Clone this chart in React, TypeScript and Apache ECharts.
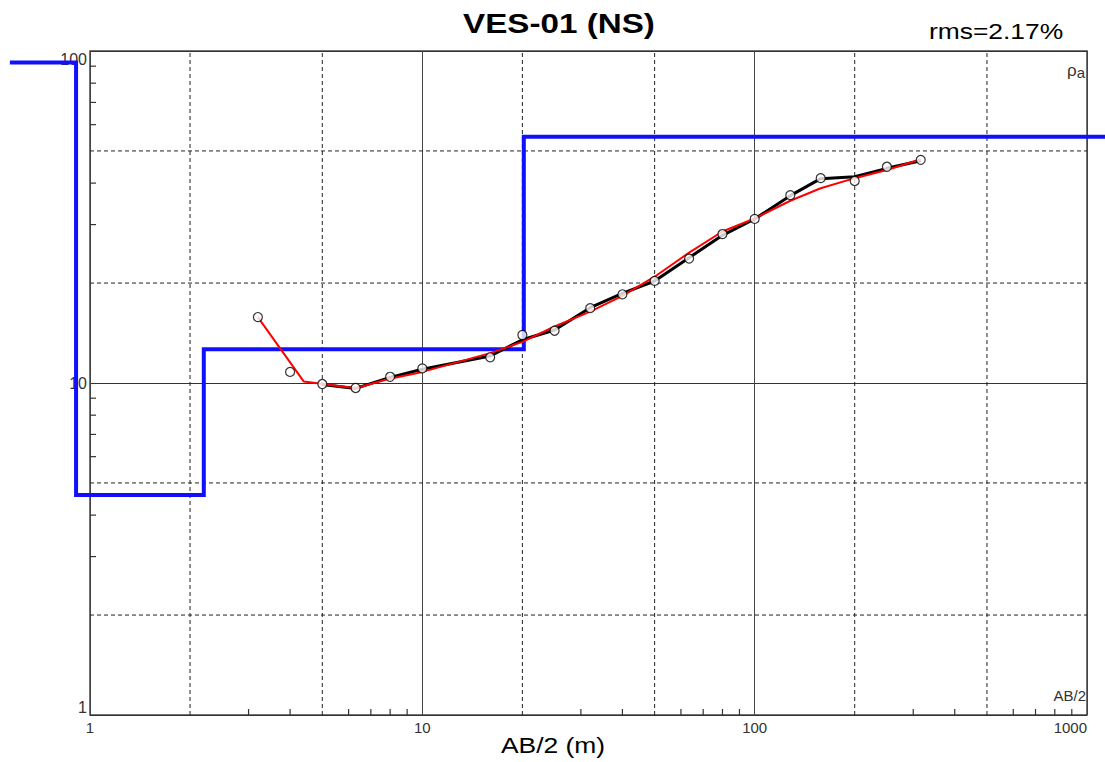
import React, { useEffect, useRef } from "react";
import * as echarts from "echarts";

const titleText = "VES-01 (NS)";
const rmsText = "rms=2.17%";
const xAxisName = "AB/2 (m)";
const cornerYLabel = "ρ";
const cornerYSub = "a";
const cornerXLabel = "AB/2";

// observed apparent resistivity (circles)
const obsAB2 = [3.2, 4, 5, 6.3, 8, 10, 16, 20, 25, 32, 40, 50, 63.5, 80, 100, 128, 158, 200, 250, 316];
const obsRho = [15.8, 10.8, 9.93, 9.66, 10.44, 11.07, 11.95, 13.95, 14.37, 16.8, 18.5, 20.3, 23.7, 28.1, 31.2, 36.8, 41.4, 40.6, 44.8, 47.0];

// field curve (black)
const fieldAB2 = [5, 6.3, 8, 10, 16, 20, 25, 32, 40, 50, 63.5, 80, 100, 128, 158, 200, 250, 316];
const fieldRho = [9.9, 9.63, 10.4, 11.0, 12.06, 13.5, 14.44, 16.86, 18.63, 20.29, 23.85, 27.85, 31.19, 36.67, 41.26, 41.82, 44.32, 46.73];

// calculated curve (red)
const calcAB2 = [3.2, 4.4, 6.3, 7.8, 10, 16, 20, 25, 32, 40, 50, 63.5, 80, 100, 128, 158, 200, 250, 316];
const calcRho = [15.8, 10.1, 9.64, 10.25, 10.8, 12.3, 13.3, 14.8, 16.4, 18.3, 20.9, 24.7, 28.6, 31.3, 35.4, 38.6, 41.4, 43.8, 47.2];

// layered model (blue)
const layerRho = [92.4, 4.6, 12.63, 55.2];
const layerDepth = [0.908, 2.2, 20.2];
const modelStart = 0.574;
const modelEnd = 1300;

// grid decorations
const xDashed = [2, 5, 20, 50, 200, 500];
const yDashed = [2, 5, 20, 50];
const xMinor = [3, 4, 6, 7, 8, 9, 30, 40, 60, 70, 80, 90, 300, 400, 600, 700, 800, 900];
const yMinor = [3, 4, 6, 7, 8, 9, 30, 40, 60, 70, 80, 90];

const FONT = "'Liberation Sans', Arial, Helvetica, sans-serif";

export default function App() {
  const ref = useRef<HTMLDivElement>(null);

  useEffect(() => {
    if (!ref.current) return;
    const chart = echarts.init(ref.current, undefined, { renderer: "svg" });

    const modelPts: number[][] = [[modelStart, layerRho[0]]];
    layerDepth.forEach((d, i) => {
      modelPts.push([d, layerRho[i]]);
      modelPts.push([d, layerRho[i + 1]]);
    });
    modelPts.push([modelEnd, layerRho[layerRho.length - 1]]);

    const decoData: number[][] = [];
    xDashed.forEach((v) => decoData.push([v, 1, 0]));
    yDashed.forEach((v) => decoData.push([1, v, 1]));
    xMinor.forEach((v) => decoData.push([v, 1, 2]));
    yMinor.forEach((v) => decoData.push([1, v, 3]));

    const option: any = {
      animation: false,
      backgroundColor: "#ffffff",
      grid: {
        left: 90,
        right: 18,
        top: 51,
        bottom: 47,
        show: true,
        borderColor: "#444",
        borderWidth: 1.5,
        backgroundColor: "transparent",
      },
      xAxis: {
        type: "log",
        logBase: 10,
        min: 1,
        max: 1000,
        axisLine: { show: false },
        axisTick: { show: false },
        splitLine: { show: true, lineStyle: { color: "#444", width: 1, type: "solid" } },
        axisLabel: {
          fontSize: 15,
          color: "#333",
          fontFamily: FONT,
          margin: 5,
          showMinLabel: true,
          showMaxLabel: true,
          alignMaxLabel: "right",
          formatter: (v: number) => String(Math.round(v)),
        },
      },
      yAxis: {
        type: "log",
        logBase: 10,
        min: 1,
        max: 100,
        axisLine: { show: false },
        axisTick: { show: false },
        splitLine: { show: true, lineStyle: { color: "#333", width: 1, type: "solid" } },
        axisLabel: {
          fontSize: 16,
          color: "#333",
          fontFamily: FONT,
          margin: 3,
          showMinLabel: true,
          showMaxLabel: true,
          verticalAlignMinLabel: "bottom",
          verticalAlignMaxLabel: "top",
          formatter: (v: number) => String(Math.round(v)),
        },
      },
      graphic: [
        {
          type: "text",
          x: 559,
          y: 24,
          scaleX: 1.23,
          style: {
            text: titleText,
            font: `bold 27px ${FONT}`,
            fill: "#000",
            textAlign: "center",
            textVerticalAlign: "middle",
          },
        },
        {
          type: "text",
          x: 996,
          y: 31,
          scaleX: 1.2,
          style: {
            text: rmsText,
            font: `22px ${FONT}`,
            fill: "#000",
            textAlign: "center",
            textVerticalAlign: "middle",
          },
        },
        {
          type: "text",
          x: 553,
          y: 745,
          scaleX: 1.2,
          style: {
            text: xAxisName,
            font: `22px ${FONT}`,
            fill: "#000",
            textAlign: "center",
            textVerticalAlign: "middle",
          },
        },
        {
          type: "text",
          x: 1085,
          y: 70,
          style: {
            text: `{r|${cornerYLabel}}{s|${cornerYSub}}`,
            textAlign: "right",
            textVerticalAlign: "middle",
            rich: {
              r: { fontSize: 17, fontFamily: FONT, fill: "#333", color: "#333" },
              s: { fontSize: 15, fontFamily: FONT, fill: "#333", color: "#333", padding: [5, 0, 0, 0] },
            },
          },
        },
        {
          type: "text",
          x: 1086,
          y: 695,
          style: {
            text: cornerXLabel,
            font: `15px ${FONT}`,
            fill: "#333",
            textAlign: "right",
            textVerticalAlign: "middle",
          },
        },
      ],
      series: [
        {
          type: "custom",
          silent: true,
          z: 1,
          encode: { x: 0, y: 1 },
          data: decoData,
          renderItem: (_params: any, api: any) => {
            const x = api.value(0);
            const y = api.value(1);
            const kind = api.value(2);
            const dash = { stroke: "#222", lineWidth: 1, lineDash: [4, 3] };
            const solid = { stroke: "#333", lineWidth: 1.2 };
            if (kind === 0) {
              const a = api.coord([x, 1]);
              const b = api.coord([x, 100]);
              return { type: "line", shape: { x1: a[0], y1: a[1], x2: b[0], y2: b[1] }, style: dash };
            }
            if (kind === 1) {
              const a = api.coord([1, y]);
              const b = api.coord([1000, y]);
              return { type: "line", shape: { x1: a[0], y1: a[1], x2: b[0], y2: b[1] }, style: dash };
            }
            if (kind === 2) {
              const a = api.coord([x, 1]);
              return { type: "line", shape: { x1: a[0], y1: a[1], x2: a[0], y2: a[1] - 6 }, style: solid };
            }
            const a = api.coord([1, y]);
            return { type: "line", shape: { x1: a[0], y1: a[1], x2: a[0] + 6, y2: a[1] }, style: solid };
          },
        },
        {
          name: "model",
          type: "custom",
          z: 3,
          clip: false,
          silent: true,
          encode: { x: 0, y: 1 },
          data: [[1, 1]],
          renderItem: (_params: any, api: any) => {
            // affine log mapping taken from the axes (extends beyond the axis range)
            const p1 = api.coord([1, 1]);
            const p10 = api.coord([10, 10]);
            const pts = modelPts.map(([x, y]) => [
              p1[0] + Math.log10(x) * (p10[0] - p1[0]),
              p1[1] + Math.log10(y) * (p10[1] - p1[1]),
            ]);
            return {
              type: "polyline",
              shape: { points: pts },
              style: { stroke: "#1010ff", lineWidth: 4, fill: "none", lineJoin: "miter" },
            };
          },
        },
        {
          name: "field",
          type: "line",
          z: 4,
          showSymbol: false,
          symbol: "none",
          data: fieldAB2.map((x, i) => [x, fieldRho[i]]),
          lineStyle: { color: "#000", width: 3 },
        },
        {
          name: "calculated",
          type: "line",
          z: 5,
          showSymbol: false,
          symbol: "none",
          data: calcAB2.map((x, i) => [x, calcRho[i]]),
          lineStyle: { color: "#ff0000", width: 2 },
        },
        {
          name: "observed",
          type: "scatter",
          z: 6,
          symbol: "circle",
          symbolSize: 9,
          data: obsAB2.map((x, i) => [x, obsRho[i]]),
          itemStyle: { color: "#fff", borderColor: "#000", borderWidth: 1.2 },
        },
      ],
    };

    chart.setOption(option);
    return () => chart.dispose();
  }, []);

  return (
    <div
      ref={ref}
      style={{ position: "absolute", left: 0, top: 0, width: 1105, height: 762, background: "#fff" }}
    />
  );
}
